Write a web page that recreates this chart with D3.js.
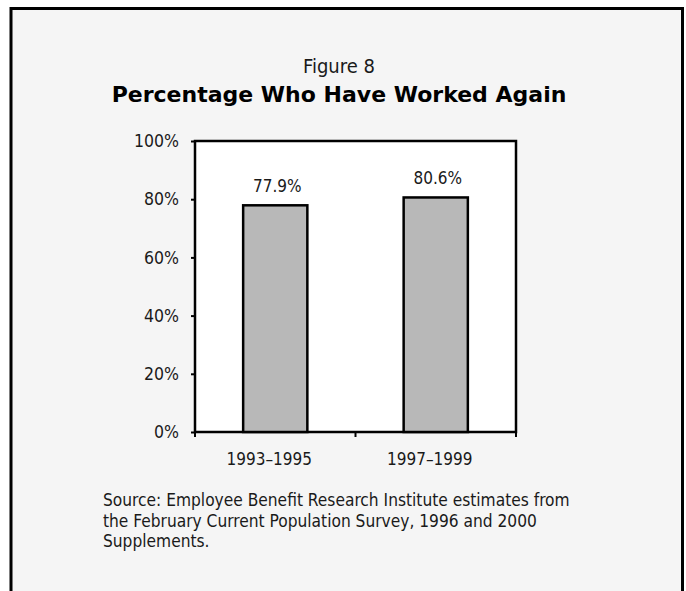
<!DOCTYPE html>
<html>
<head>
<meta charset="utf-8">
<script src="https://cdn.jsdelivr.net/npm/d3@7"></script>
<style>
  body { margin: 0; background: #fff; }
  svg { display: block; }
  .narrow { font-family: "Liberation Sans Narrow", "Arial Narrow", "DejaVu Sans Condensed", sans-serif; fill: #1a1a1a; }
  .title { font-family: "DejaVu Sans", Verdana, sans-serif; font-weight: bold; fill: #000; }
</style>
</head>
<body>
<script>
// chart data
const categories = ["1993\u20131995", "1997\u20131999"];
const values = [77.9, 80.6];
const yTicks = [0, 20, 40, 60, 80, 100];
const sourceLines = [
  "Source: Employee Benefit Research Institute estimates from",
  "the February Current Population Survey, 1996 and 2000",
  "Supplements."
];

const w = 686, h = 591;
const plot = { left: 195, top: 141, right: 516, bottom: 432 };

const svg = d3.select("body").append("svg")
  .attr("width", w)
  .attr("height", h);

// outer frame
svg.append("rect")
  .attr("x", 11).attr("y", 8.5)
  .attr("width", 671.5).attr("height", 600)
  .attr("fill", "#f5f5f5")
  .attr("stroke", "#000")
  .attr("stroke-width", 3);

// titles
svg.append("text")
  .attr("class", "narrow")
  .attr("x", 339).attr("y", 73)
  .attr("text-anchor", "middle")
  .style("font-size", "20px")
  .text("Figure 8");

svg.append("text")
  .attr("class", "title")
  .attr("x", 339).attr("y", 102)
  .attr("text-anchor", "middle")
  .style("font-size", "22px")
  .text("Percentage Who Have Worked Again");

// scales
const x = d3.scaleBand()
  .domain(categories)
  .range([plot.left, plot.right])
  .paddingInner(0.6)
  .paddingOuter(0.3);

const y = d3.scaleLinear()
  .domain([0, 100])
  .range([plot.bottom, plot.top]);

// plot area
svg.append("rect")
  .attr("x", plot.left).attr("y", plot.top)
  .attr("width", plot.right - plot.left)
  .attr("height", plot.bottom - plot.top)
  .attr("fill", "#fff")
  .attr("stroke", "#000")
  .attr("stroke-width", 2.5);

// bars
svg.append("g")
  .selectAll("rect")
  .data(values)
  .enter()
  .append("rect")
  .attr("x", (d, i) => x(categories[i]))
  .attr("y", d => y(d))
  .attr("width", x.bandwidth())
  .attr("height", d => y(0) - y(d))
  .attr("fill", "#b8b8b8")
  .attr("stroke", "#000")
  .attr("stroke-width", 2.5);

// value labels
svg.append("g")
  .selectAll("text")
  .data(values)
  .enter()
  .append("text")
  .attr("class", "narrow")
  .attr("x", (d, i) => x(categories[i]) + x.bandwidth() / 2 + 2)
  .attr("y", d => y(d) - 13)
  .attr("text-anchor", "middle")
  .style("font-size", "17px")
  .text(d => d.toFixed(1) + "%");

// y axis
const yAxis = d3.axisLeft(y)
  .tickValues(yTicks)
  .tickSize(4)
  .tickPadding(12)
  .tickFormat(d => d + "%");

const gy = svg.append("g")
  .attr("transform", `translate(${plot.left},0)`)
  .call(yAxis);
gy.select(".domain").remove();
gy.selectAll("line").attr("stroke", "#000").attr("stroke-width", 2);
gy.selectAll("text")
  .attr("class", "narrow")
  .attr("font-family", null)
  .attr("font-size", null)
  .style("font-size", "17.5px");

// x axis ticks at band boundaries
const bounds = [plot.left, (plot.left + plot.right) / 2, plot.right];
svg.append("g")
  .selectAll("line")
  .data(bounds)
  .enter()
  .append("line")
  .attr("x1", d => d).attr("x2", d => d)
  .attr("y1", plot.bottom).attr("y2", plot.bottom + 5)
  .attr("stroke", "#000")
  .attr("stroke-width", 2);

// category labels
svg.append("g")
  .selectAll("text")
  .data(categories)
  .enter()
  .append("text")
  .attr("class", "narrow")
  .attr("x", d => x(d) + x.bandwidth() / 2 - 6)
  .attr("y", 465)
  .attr("text-anchor", "middle")
  .style("font-size", "17px")
  .text(d => d);

// source note
svg.append("g")
  .selectAll("text")
  .data(sourceLines)
  .enter()
  .append("text")
  .attr("class", "narrow")
  .attr("x", 103)
  .attr("y", (d, i) => 506 + i * 20.7)
  .style("font-size", "17.2px")
  .text(d => d);
</script>
</body>
</html>
